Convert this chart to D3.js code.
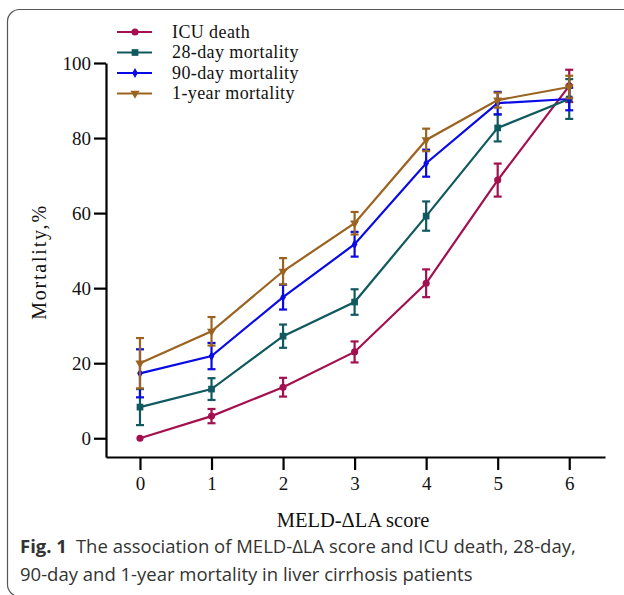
<!DOCTYPE html>
<html>
<head>
<meta charset="utf-8">
<script src="https://cdn.jsdelivr.net/npm/d3@7"></script>
<style>
body { margin: 0; background: #fff; }
svg text { font-family: "Liberation Serif", "Times New Roman", serif; }
</style>
</head>
<body>
<svg id="chart" width="624" height="595"></svg>
<script>
// MELD-dLA score on the x axis
var scores = [0, 1, 2, 3, 4, 5, 6];
var seriesNames = ["ICU death", "28-day mortality", "90-day mortality", "1-year mortality"];
var icuDeath    = [0, 5.9, 13.6, 23.0, 41.3, 68.8, 93.9];
var icuErr      = [0, 1.9, 2.5, 2.8, 3.7, 4.4, 4.3];
var day28       = [8.3, 13.1, 27.2, 36.3, 59.2, 82.7, 90.4];
var day28Err    = [4.8, 2.9, 3.1, 3.4, 3.9, 3.6, 5.3];
var day90       = [17.3, 21.9, 37.6, 51.7, 73.3, 89.3, 90.4];
var day90Err    = [6.4, 3.5, 3.3, 3.3, 3.6, 3.0, 3.0];
var year1       = [20.0, 28.5, 44.5, 57.3, 79.5, 90.1, 93.6];
var year1Err    = [6.7, 3.8, 3.5, 3.0, 3.0, 2.0, 3.0];
var yTicks = [0, 20, 40, 60, 80, 100];

var colors = ["#a3104f", "#10595f", "#0a0ae6", "#9a6420"];
var shapes = [d3.symbolCircle, d3.symbolSquare, d3.symbolDiamond, d3.symbolTriangle];
var sizes = [40, 45, 28, 36];

var allSeries = [
	{name: seriesNames[0], vals: icuDeath, errs: icuErr},
	{name: seriesNames[1], vals: day28, errs: day28Err},
	{name: seriesNames[2], vals: day90, errs: day90Err},
	{name: seriesNames[3], vals: year1, errs: year1Err}
];

var svg = d3.select("#chart");

// rounded frame round the figure
svg.append("rect").attr("x", 7.5).attr("y", 9.5).attr("width", 700).attr("height", 587)
	.attr("rx", 12).attr("fill", "none").attr("stroke", "#555").attr("stroke-width", 1.2);

var x = d3.scaleLinear().domain([-0.475, 6.5]).range([106, 605]);
var y = d3.scaleLinear().domain([-5, 100]).range([457, 63]);

var xAxis = d3.axisBottom(x).tickValues(scores).tickFormat(d3.format("d"))
	.tickSize(13).tickSizeOuter(0).tickPadding(7);
var yAxis = d3.axisLeft(y).tickValues(yTicks).tickSize(12).tickSizeOuter(0).tickPadding(3);

var gx = svg.append("g").attr("transform", "translate(0,457)").call(xAxis);
var gy = svg.append("g").attr("transform", "translate(106,0)").call(yAxis);
[gx, gy].forEach(function(g){
	g.select(".domain").attr("stroke", "#000").attr("stroke-width", 2.2);
	g.selectAll(".tick line").attr("stroke", "#000").attr("stroke-width", 2.2);
	g.selectAll(".tick text").attr("fill", "#111").attr("font-size", 19)
		.attr("font-family", "Liberation Serif");
});

svg.append("text").attr("x", 353).attr("y", 527).attr("text-anchor", "middle")
	.attr("font-size", 20.5).attr("fill", "#111").text("MELD-\u0394LA score");
svg.append("text").attr("transform", "translate(46,262) rotate(-90)")
	.attr("text-anchor", "middle").attr("font-size", 20).attr("letter-spacing", 1.8)
	.attr("fill", "#111").text("Mortality,%");

var line = d3.line().x(function(d, i){ return x(scores[i]); }).y(function(d){ return y(d); });

allSeries.forEach(function(s, k){
	var g = svg.append("g");
	g.append("path").datum(s.vals).attr("d", line).attr("fill", "none")
		.attr("stroke", colors[k]).attr("stroke-width", 2.2);
	s.vals.forEach(function(v, i){
		var e = s.errs[i];
		if (e <= 0) return;
		var cx = x(scores[i]);
		g.append("line").attr("x1", cx).attr("x2", cx).attr("y1", y(v - e)).attr("y2", y(v + e))
			.attr("stroke", colors[k]).attr("stroke-width", 2.2);
		[v - e, v + e].forEach(function(c){
			g.append("line").attr("x1", cx - 4).attr("x2", cx + 4).attr("y1", y(c)).attr("y2", y(c))
				.attr("stroke", colors[k]).attr("stroke-width", 2.2);
		});
	});
	g.selectAll("path.pt").data(s.vals).enter().append("path").attr("class", "pt")
		.attr("d", d3.symbol().type(shapes[k]).size(sizes[k]))
		.attr("transform", function(d, i){
			return "translate(" + x(scores[i]) + "," + y(d) + ")" + (k == 3 ? " rotate(180)" : "");
		})
		.attr("fill", colors[k]);
});

// legend
var legend = svg.append("g");
allSeries.forEach(function(s, k){
	var ly = 32 + k * 20.5;
	legend.append("line").attr("x1", 117).attr("x2", 152).attr("y1", ly).attr("y2", ly)
		.attr("stroke", colors[k]).attr("stroke-width", 2.2);
	legend.append("path").attr("d", d3.symbol().type(shapes[k]).size(sizes[k]))
		.attr("transform", "translate(135," + ly + ")" + (k == 3 ? " rotate(180)" : ""))
		.attr("fill", colors[k]);
	legend.append("text").attr("x", 172).attr("y", ly + 5.5).attr("font-size", 18)
		.attr("letter-spacing", 0.4).attr("fill", "#111").text(s.name);
});

// caption
var cap = svg.append("text").attr("x", 20).attr("y", 553)
	.attr("font-size", 18.5).attr("fill", "#333").style("font-family", "'Open Sans', sans-serif");
cap.append("tspan").attr("font-weight", "bold").text("Fig. 1");
cap.append("tspan").attr("dx", 9).text("The association of MELD-\u0394LA score and ICU death, 28-day,");
svg.append("text").attr("x", 20).attr("y", 581).attr("font-size", 18.5).attr("fill", "#333")
	.style("font-family", "'Open Sans', sans-serif")
	.text("90-day and 1-year mortality in liver cirrhosis patients");
</script>
</body>
</html>
